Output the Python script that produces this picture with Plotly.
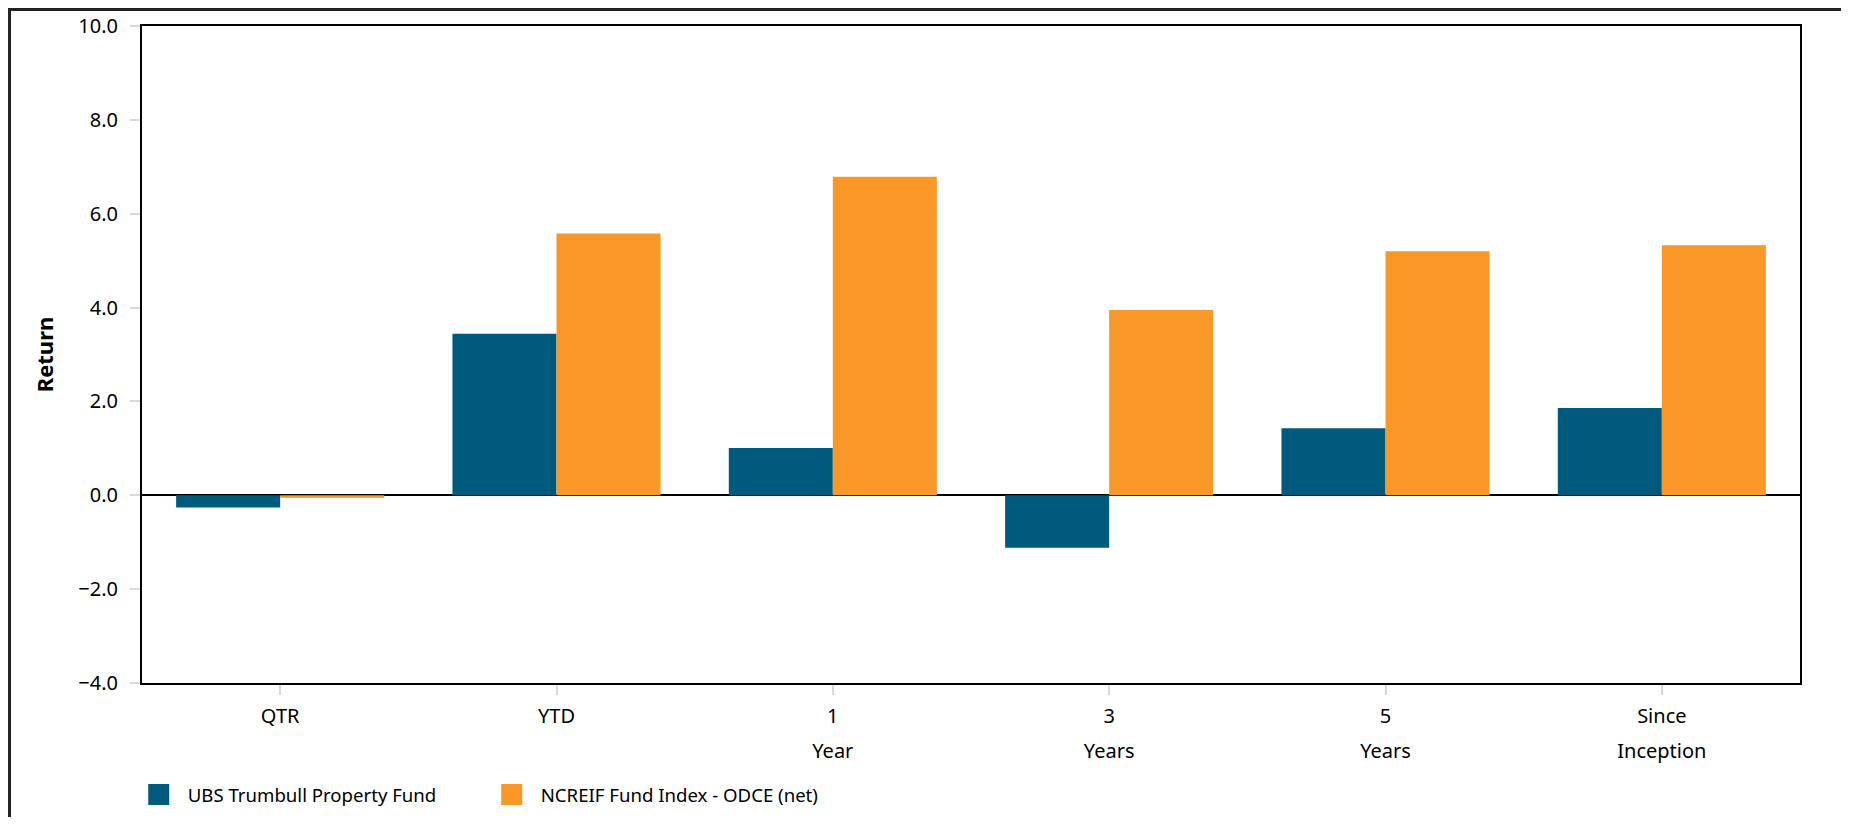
import plotly.graph_objects as go

# ---- data ----
categories = ["QTR", "YTD", "1 Year", "3 Years", "5 Years", "Since Inception"]
tick_line1 = ["QTR", "YTD", "1", "3", "5", "Since"]
tick_line2 = ["", "", "Year", "Years", "Years", "Inception"]
fund_name = "UBS Trumbull Property Fund"
index_name = "NCREIF Fund Index - ODCE (net)"
fund_values = [-0.26, 3.44, 1.01, -1.12, 1.43, 1.86]
index_values = [-0.05, 5.58, 6.79, 3.95, 5.20, 5.33]
y_ticks = [-4, -2, 0, 2, 4, 6, 8, 10]

BLUE = "#005A7D"
ORANGE = "#F99727"
FONT = "Noto Sans"

fig = go.Figure()
fig.add_trace(go.Bar(x=categories, y=fund_values, name=fund_name,
                     marker=dict(color=BLUE, line=dict(width=0)), showlegend=False))
fig.add_trace(go.Bar(x=categories, y=index_values, name=index_name,
                     marker=dict(color=ORANGE, line=dict(width=0)), showlegend=False))
# legend proxies (larger swatches)
for nm, col in [(fund_name, BLUE), (index_name, ORANGE)]:
    fig.add_trace(go.Scatter(x=[None], y=[None], mode="markers", name=nm,
                             marker=dict(symbol="square", size=16, color=col,
                                         line=dict(color=col, width=5)),
                             hoverinfo="skip"))

fig.update_layout(
    width=1840, height=809, autosize=False,
    margin=dict(l=134, r=48, t=18, b=134, autoexpand=False),
    paper_bgcolor="white", plot_bgcolor="white",
    font=dict(family=FONT, size=20, color="#000000"),
    barmode="group", bargap=0.247, bargroupgap=0,
    showlegend=True,
    legend=dict(orientation="h", x=-0.0074, xanchor="left",
                yref="container", y=0.0272, yanchor="middle",
                font=dict(size=18.6, family=FONT, color="#000000"),
                itemsizing="trace", itemwidth=48, entrywidth=290,
                bgcolor="rgba(0,0,0,0)"),
    xaxis=dict(type="category", categoryorder="array", categoryarray=categories,
               tickvals=categories, ticktext=tick_line1,
               ticks="outside", ticklen=10, tickwidth=2, tickcolor="#d9d9d9",
               showline=True, mirror=True, linecolor="#000000", linewidth=2,
               showgrid=False, ticklabelstandoff=4, automargin=False,
               tickfont=dict(size=20, family=FONT, color="#000000"),
               range=[-0.5, 5.5]),
    xaxis2=dict(overlaying="x", anchor="y", side="bottom", range=[-0.5, 5.5],
                tickvals=list(range(len(categories))), ticktext=tick_line2,
                ticks="", showline=False, showgrid=False, zeroline=False,
                ticklabelstandoff=54, automargin=False,
                tickfont=dict(size=20, family=FONT, color="#000000")),
    yaxis=dict(range=[-4, 10], tickvals=y_ticks, tickformat=".1f",
               ticks="outside", ticklen=10, tickwidth=2, tickcolor="#d9d9d9",
               showline=True, mirror=True, linecolor="#000000", linewidth=2,
               showgrid=False, zeroline=True, zerolinecolor="#000000", zerolinewidth=2,
               ticklabelstandoff=8, automargin=False,
               tickfont=dict(size=20, family=FONT, color="#000000"),
               title=dict(text="<b>Return</b>", standoff=19,
                          font=dict(size=22, family=FONT, color="#000000"))),
)

# dummy trace to activate xaxis2
fig.add_trace(go.Scatter(x=[None], y=[None], xaxis="x2", yaxis="y",
                         showlegend=False, hoverinfo="skip"))

# outer frame of the picture
fig.add_shape(type="rect", xref="paper", yref="paper",
              x0=-0.0799, x1=1.0277, y0=-0.25, y1=1.0251,
              line=dict(color="#222222", width=3), layer="above")

fig.write_html("out.html")
